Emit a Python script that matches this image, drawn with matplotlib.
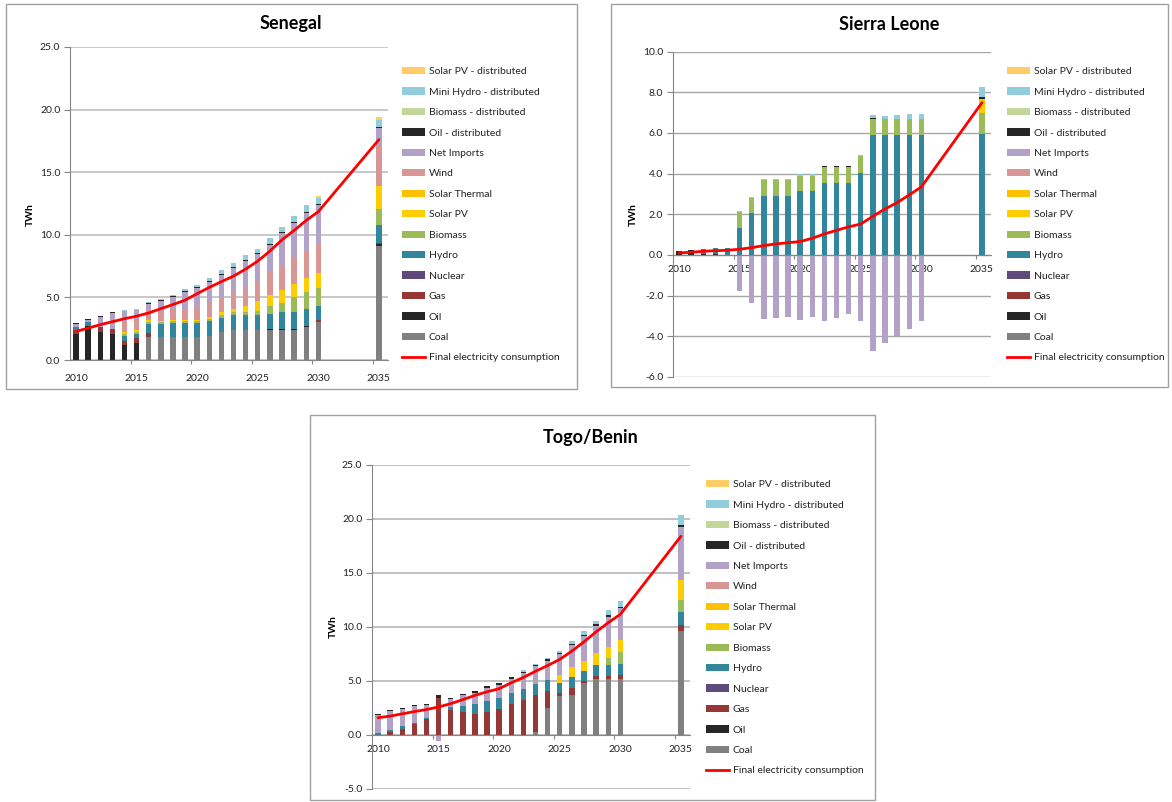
import numpy as np
import matplotlib
matplotlib.use("Agg")
import matplotlib.pyplot as plt
from matplotlib.patches import Rectangle, Patch
from matplotlib.lines import Line2D

plt.rcParams['font.family'] = ['Lato', 'DejaVu Sans']
plt.rcParams['axes.unicode_minus'] = False

W, H = 1172, 802

years = [2010, 2011, 2012, 2013, 2014, 2015, 2016, 2017, 2018, 2019, 2020,
         2021, 2022, 2023, 2024, 2025, 2026, 2027, 2028, 2029, 2030, 2035]

# stacking order bottom -> top
series = ["Coal", "Oil", "Gas", "Nuclear", "Hydro", "Biomass", "Solar PV",
          "Solar Thermal", "Wind", "Net Imports", "Oil - distributed",
          "Biomass - distributed", "Mini Hydro - distributed", "Solar PV - distributed"]
colors = ["#808080", "#262626", "#953735", "#604A7B", "#31859C", "#9BBB59", "#FFCC00",
          "#FFC000", "#DA9694", "#B3A2C7", "#262626", "#C4D79B", "#92CDDC", "#FFCC66"]
line_label = "Final electricity consumption"

# ---------------- Senegal ----------------
sen_coal = [0, 0, 0, 0, 0, 0, 1.83, 1.83, 1.83, 1.83, 1.83, 1.88, 2.23, 2.37, 2.37, 2.37, 2.37, 2.37, 2.37, 2.63, 3.0, 9.14]
sen_oil = [2.07, 2.74, 2.2, 2.1, 1.2, 1.34, 0, 0, 0, 0, 0, 0, 0, 0, 0, 0, 0.1, 0.1, 0.1, 0.12, 0, 0.1]
sen_gas = [0.35, 0, 0.4, 0.38, 0.35, 0.43, 0.32, 0, 0, 0, 0, 0, 0, 0, 0, 0, 0, 0, 0, 0, 0.16, 0.08]
sen_hydro = [0.24, 0.27, 0, 0, 0.38, 0.32, 0.75, 1.02, 1.1, 1.1, 1.1, 1.26, 1.16, 1.26, 1.26, 1.26, 1.24, 1.34, 1.34, 1.34, 1.18, 1.45]
sen_biomass = [0, 0, 0, 0, 0.16, 0.16, 0.16, 0.2, 0.18, 0.16, 0.16, 0.16, 0.24, 0.24, 0.22, 0.27, 0.6, 0.75, 1.24, 1.32, 1.4, 1.3]
sen_solar_pv = [0, 0, 0, 0, 0.16, 0.16, 0.16, 0.1, 0.1, 0.13, 0.13, 0.1, 0.2, 0.2, 0.5, 0.8, 0.9, 1.0, 1.0, 1.1, 1.2, 1.83]
sen_wind = [0, 0, 0, 0, 0.83, 0.8, 0.75, 0.73, 0.75, 0.86, 1.0, 1.24, 1.24, 1.42, 1.3, 1.6, 1.8, 1.96, 2.1, 2.2, 2.37, 3.28]
sen_imports = [0.24, 0.16, 0.83, 1.24, 0.8, 0.8, 0.5, 0.8, 1.07, 1.34, 1.5, 1.6, 1.7, 1.83, 2.26, 2.15, 2.19, 2.6, 2.8, 3.04, 3.04, 1.34]
sen_oil_dist = [0.08, 0.08, 0.08, 0.1, 0, 0, 0.05, 0.08, 0.08, 0.08, 0.08, 0.08, 0.1, 0.1, 0.1, 0.1, 0.1, 0.1, 0.1, 0.1, 0.1, 0.13]
sen_mini_hydro = [0, 0, 0, 0, 0.1, 0.1, 0.08, 0.1, 0.1, 0.2, 0.2, 0.24, 0.32, 0.3, 0.38, 0.35, 0.45, 0.4, 0.45, 0.5, 0.46, 0.54]
sen_pv_dist = [0, 0, 0, 0, 0, 0, 0, 0, 0, 0, 0, 0, 0, 0, 0, 0, 0, 0, 0, 0.03, 0.16, 0.2]
sen_consumption = [2.28, 2.55, 2.82, 3.06, 3.3, 3.5, 3.76, 4.1, 4.43, 4.78, 5.3, 5.8, 6.26, 6.7, 7.26, 7.9, 8.7, 9.6, 10.35, 11.15, 11.85, 17.6]

# ---------------- Sierra Leone ----------------
sl_oil = [0.2, 0.25, 0.05, 0.04, 0, 0, 0, 0, 0, 0, 0, 0, 0, 0, 0, 0, 0, 0, 0, 0, 0, 0]
sl_hydro = [0, 0, 0.25, 0.3, 0.34, 1.31, 2.05, 2.92, 2.92, 2.92, 3.16, 3.16, 3.56, 3.56, 3.56, 4.05, 5.92, 5.92, 5.92, 5.92, 5.92, 5.95]
sl_biomass = [0, 0, 0, 0, 0, 0.79, 0.77, 0.77, 0.77, 0.77, 0.74, 0.74, 0.75, 0.75, 0.75, 0.79, 0.74, 0.74, 0.74, 0.74, 0.74, 1.02]
sl_solar_pv = [0, 0, 0, 0, 0, 0, 0, 0, 0, 0, 0, 0, 0, 0, 0, 0, 0, 0, 0, 0, 0, 0.5]
sl_solar_thermal = [0, 0, 0, 0, 0, 0, 0, 0, 0, 0, 0, 0, 0, 0, 0, 0, 0, 0, 0, 0, 0, 0.2]
sl_imports = [-0.05, -0.05, -0.05, -0.05, -0.05, -1.75, -2.38, -3.16, -3.11, -3.07, -3.21, -3.05, -3.25, -3.08, -2.92, -3.25, -4.7, -4.34, -4.0, -3.62, -3.25, 0]
sl_oil_dist = [0, 0, 0, 0, 0, 0, 0, 0, 0, 0, 0, 0, 0.05, 0.05, 0.05, 0, 0.05, 0, 0, 0, 0, 0.07]
sl_mini_hydro = [0, 0, 0, 0, 0, 0.05, 0.05, 0.05, 0.05, 0.05, 0.07, 0.07, 0, 0, 0.03, 0.05, 0.15, 0.15, 0.2, 0.25, 0.28, 0.52]
sl_consumption = [0.1, 0.13, 0.18, 0.21, 0.23, 0.28, 0.36, 0.46, 0.54, 0.6, 0.66, 0.82, 1.03, 1.21, 1.38, 1.52, 1.9, 2.26, 2.57, 2.95, 3.34, 7.48]

# ---------------- Togo/Benin ----------------
tb_coal = [0, 0, 0, 0, 0, 0, 0, 0, 0, 0, 0, 0, 0, 0.27, 2.48, 3.58, 3.7, 4.8, 5.2, 5.2, 5.2, 9.66]
tb_gas = [0, 0.25, 0.6, 1.0, 1.47, 3.4, 2.3, 2.14, 1.9, 2.17, 2.42, 2.85, 3.24, 3.46, 1.6, 0.34, 0.67, 0.2, 0.25, 0.25, 0.4, 0.52]
tb_hydro = [0.15, 0.2, 0.25, 0.15, 0.15, 0.05, 0.25, 0.52, 1.0, 0.98, 0.98, 1.04, 1.0, 0.98, 0.98, 0.89, 1.04, 0.95, 1.07, 1.07, 0.98, 1.2]
tb_biomass = [0, 0, 0, 0, 0, 0, 0, 0, 0, 0, 0, 0, 0, 0, 0, 0, 0, 0, 0, 0.6, 1.07, 1.1]
tb_solar_pv = [0, 0, 0, 0, 0, 0, 0, 0, 0, 0, 0, 0, 0, 0, 0, 0.7, 0.86, 0.86, 1.07, 1.0, 1.13, 1.85]
tb_wind = [0, 0, 0, 0, 0, 0, 0, 0, 0, 0, 0, 0, 0, 0, 0.06, 0, 0, 0, 0, 0, 0, 0]
tb_imports = [1.7, 1.78, 1.53, 1.5, 1.13, -0.52, 0.77, 1.0, 1.0, 1.2, 1.25, 1.3, 1.47, 1.65, 1.77, 2.0, 2.08, 2.36, 2.5, 2.85, 2.94, 4.9]
tb_oil_dist = [0.12, 0.1, 0.12, 0.12, 0.12, 0.3, 0.12, 0.12, 0.15, 0.15, 0.15, 0.15, 0.1, 0.1, 0.12, 0.12, 0.12, 0.12, 0.15, 0.12, 0.15, 0.19]
tb_mini_hydro = [0, 0, 0, 0, 0, 0, 0, 0, 0, 0.05, 0.05, 0.05, 0.2, 0.12, 0.15, 0.18, 0.25, 0.33, 0.3, 0.45, 0.58, 0.93]
tb_consumption = [1.6, 1.75, 1.96, 2.17, 2.36, 2.6, 2.9, 3.28, 3.67, 4.0, 4.29, 4.84, 5.33, 5.9, 6.43, 7.0, 7.77, 8.63, 9.55, 10.4, 11.17, 18.4]

senegal = {"Coal": sen_coal, "Oil": sen_oil, "Gas": sen_gas, "Hydro": sen_hydro,
           "Biomass": sen_biomass, "Solar PV": sen_solar_pv, "Wind": sen_wind,
           "Net Imports": sen_imports, "Oil - distributed": sen_oil_dist,
           "Mini Hydro - distributed": sen_mini_hydro, "Solar PV - distributed": sen_pv_dist}
sierra = {"Oil": sl_oil, "Hydro": sl_hydro, "Biomass": sl_biomass, "Solar PV": sl_solar_pv,
          "Solar Thermal": sl_solar_thermal, "Net Imports": sl_imports,
          "Oil - distributed": sl_oil_dist, "Mini Hydro - distributed": sl_mini_hydro}
togo = {"Coal": tb_coal, "Gas": tb_gas, "Hydro": tb_hydro, "Biomass": tb_biomass,
        "Solar PV": tb_solar_pv, "Wind": tb_wind, "Net Imports": tb_imports,
        "Oil - distributed": tb_oil_dist, "Mini Hydro - distributed": tb_mini_hydro}

fig = plt.figure(figsize=(W / 100, H / 100), dpi=100)
fig.patch.set_facecolor("white")


def fx(x):
    return x / W


def fy(y):
    return 1 - y / H


def panel(box, title, title_xy, ax_box, ylim, yticks, data, cons, legend_xy,
          ylabel_xy, grid_color, grid_lw, axis_at_zero, xpad):
    # outer frame
    l, t, r, b = box
    fig.add_artist(Rectangle((fx(l), fy(b)), fx(r - l), (b - t) / H, transform=fig.transFigure,
                             fill=False, edgecolor="#A0A0A0", lw=1.0))
    fig.text(fx(title_xy[0]), fy(title_xy[1]), title, ha="center", va="center",
             fontsize=13, fontweight="bold", color="#000000")
    al, at, ar, ab = ax_box
    ax = fig.add_axes([fx(al), fy(ab), fx(ar - al), (ab - at) / H])
    x = np.array(years, dtype=float)
    n = len(years)
    pos = np.zeros(n)
    neg = np.zeros(n)
    handles = []
    for name, col in zip(series, colors):
        vals = np.array(data.get(name, [0] * n), dtype=float)
        bottoms = np.where(vals >= 0, pos, neg)
        ax.bar(x, vals, width=0.45, bottom=bottoms, color=col, edgecolor="none", zorder=2)
        pos += np.clip(vals, 0, None)
        neg += np.clip(vals, None, 0)
        handles.append(Patch(facecolor=col, edgecolor="none", label=name))
    ax.plot(x, cons, color="#FF0000", lw=2.0, zorder=3, solid_capstyle="round")
    handles = handles[::-1] + [Line2D([], [], color="#FF0000", lw=2.0, label=line_label)]

    ax.set_ylim(*ylim)
    ax.set_xlim(2009.5, 2035.75)
    ax.set_yticks(yticks)
    ax.set_yticklabels([f"{v:.1f}" for v in yticks])
    ax.set_xticks([2010, 2015, 2020, 2025, 2030, 2035])
    ax.set_xticks([2014.5, 2019.5, 2024.5, 2029.5, 2034.5], minor=True)
    ax.tick_params(axis="y", length=4, width=0.8, color="#868686", labelsize=7.5,
                   labelcolor="#222222", pad=3)
    ax.tick_params(axis="x", which="major", length=0, labelsize=7.5, labelcolor="#222222", pad=xpad)
    ax.tick_params(axis="x", which="minor", length=3, width=0.8, color="#868686")
    ax.yaxis.grid(True, color=grid_color, lw=grid_lw, zorder=0)
    ax.set_axisbelow(True)
    for s in ["top", "right"]:
        ax.spines[s].set_visible(False)
    ax.spines["left"].set_color("#868686")
    ax.spines["bottom"].set_color("#868686")
    if axis_at_zero:
        ax.spines["bottom"].set_position(("data", 0))
    ax.patch.set_alpha(0)
    fig.text(fx(ylabel_xy[0]), fy(ylabel_xy[1]), "TWh", rotation=90, ha="center",
             va="center", fontsize=7.5, fontweight="bold")
    leg = fig.legend(handles=handles, loc="upper left",
                     bbox_to_anchor=(fx(legend_xy[0]), fy(legend_xy[1])),
                     bbox_transform=fig.transFigure, frameon=False, fontsize=7.5,
                     handlelength=2.2, handleheight=0.7, handletextpad=0.35,
                     labelspacing=1.07, borderpad=0, borderaxespad=0)
    for txt in leg.get_texts():
        txt.set_color("#222222")
    return ax


panel((6, 4, 577, 389), "Senegal", (291, 24), (70, 47, 388, 360), (0, 25),
      [0, 5, 10, 15, 20, 25], senegal, sen_consumption, (402, 67), (30, 215),
      "#C8C8C8", 1.4, False, 10)
panel((611, 4, 1168, 387), "Sierra Leone", (889, 24), (673, 51.5, 991, 377), (-6, 10),
      [-6, -4, -2, 0, 2, 4, 6, 8, 10], sierra, sl_consumption, (1007, 67), (633, 215),
      "#A6A6A6", 1.0, True, 7)
panel((310, 415, 875, 800), "Togo/Benin", (591, 438), (372, 465, 690, 789), (-5, 25),
      [-5, 0, 5, 10, 15, 20, 25], togo, tb_consumption, (706, 480), (333, 627),
      "#B0B0B0", 1.1, True, 7)

fig.savefig("out.png", dpi=100, facecolor="white")
